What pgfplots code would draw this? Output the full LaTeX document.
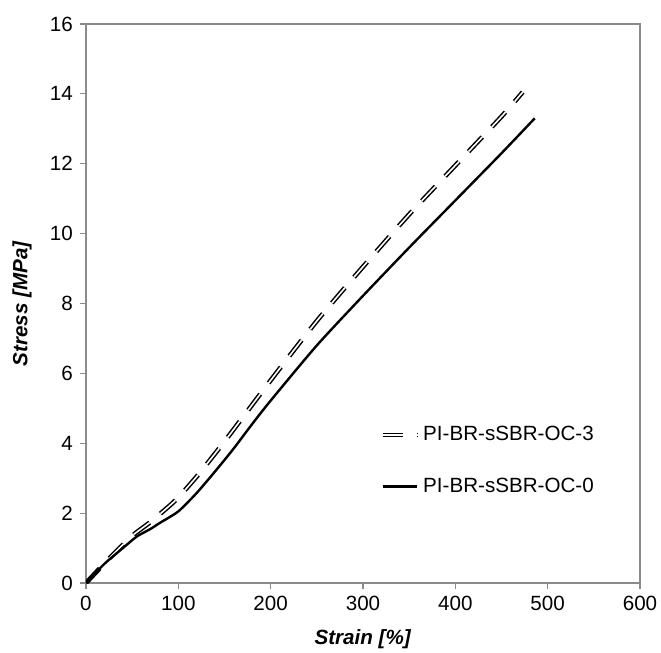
\documentclass[border=0pt]{standalone}
\usepackage{fontspec}
\setmainfont{Liberation Sans}
\usepackage{pgfplots}
\pgfplotsset{compat=1.18}
\definecolor{axgray}{HTML}{8A8A8A}

\begin{document}
\begin{tikzpicture}
\begin{axis}[
    scale only axis,
    width=277pt, height=279.5pt,
    xmin=0, xmax=600, ymin=0, ymax=16,
    xtick={0,100,...,600},
    ytick={0,2,...,16},
    tick align=outside,
    xtick pos=left, ytick pos=left,
    major tick length=3pt,
    axis line style={axgray, line width=0.6pt},
    every tick/.style={axgray, line width=0.6pt},
    /pgf/number format/assume math mode=true,
    ticklabel style={font=\fontsize{10.3}{12}\selectfont},
    xlabel={\textbf{\textit{Strain [\%]}}},
    ylabel={\textbf{\textit{Stress [MPa]}}},
    label style={font=\fontsize{10.3}{12}\selectfont},
    xlabel style={at={(rel axis cs:0.5,-0.07)}, anchor=north},
    ylabel style={at={(rel axis cs:-0.1155,0.5)}, anchor=center, rotate=0},
    legend style={draw=none, fill=none, at={(rel axis cs:0.52,0.295)},
        anchor=north west, row sep=13pt,
        font=\fontsize{10.3}{12}\selectfont},
    legend cell align=left,
]

% PI-BR-sSBR-OC-3
\addplot[black, line width=0.75pt, double=white, double distance=0.8pt,
    dash pattern=on 10pt off 7pt, smooth, tension=0.4] coordinates {
    (0,0) (25,0.7) (50,1.35) (70,1.75) (90,2.2) (100,2.45)
    (120,3.05) (150,4.05) (200,5.8) (250,7.5) (300,9.05)
    (350,10.55) (400,11.95) (450,13.35) (473,14.05)
};
\addlegendentry{PI-BR-sSBR-OC-3}

% PI-BR-sSBR-OC-0
\addplot[black, line width=1.2pt, smooth, tension=0.4] coordinates {
    (0,0) (20,0.55) (40,1.0) (55,1.33) (70,1.55) (80,1.72) (100,2.05)
    (120,2.58) (140,3.2) (160,3.85) (180,4.55) (200,5.22) (250,6.8)
    (300,8.22) (350,9.6) (400,10.95) (450,12.3) (486,13.3)
};
\addlegendentry{PI-BR-sSBR-OC-0}

\coordinate (bl) at (rel axis cs:-0.1552,-0.124);
\coordinate (tr) at (rel axis cs:1.0379,1.0429);
\end{axis}
\pgfresetboundingbox
\path (bl) rectangle (tr);
\end{tikzpicture}
\end{document}
